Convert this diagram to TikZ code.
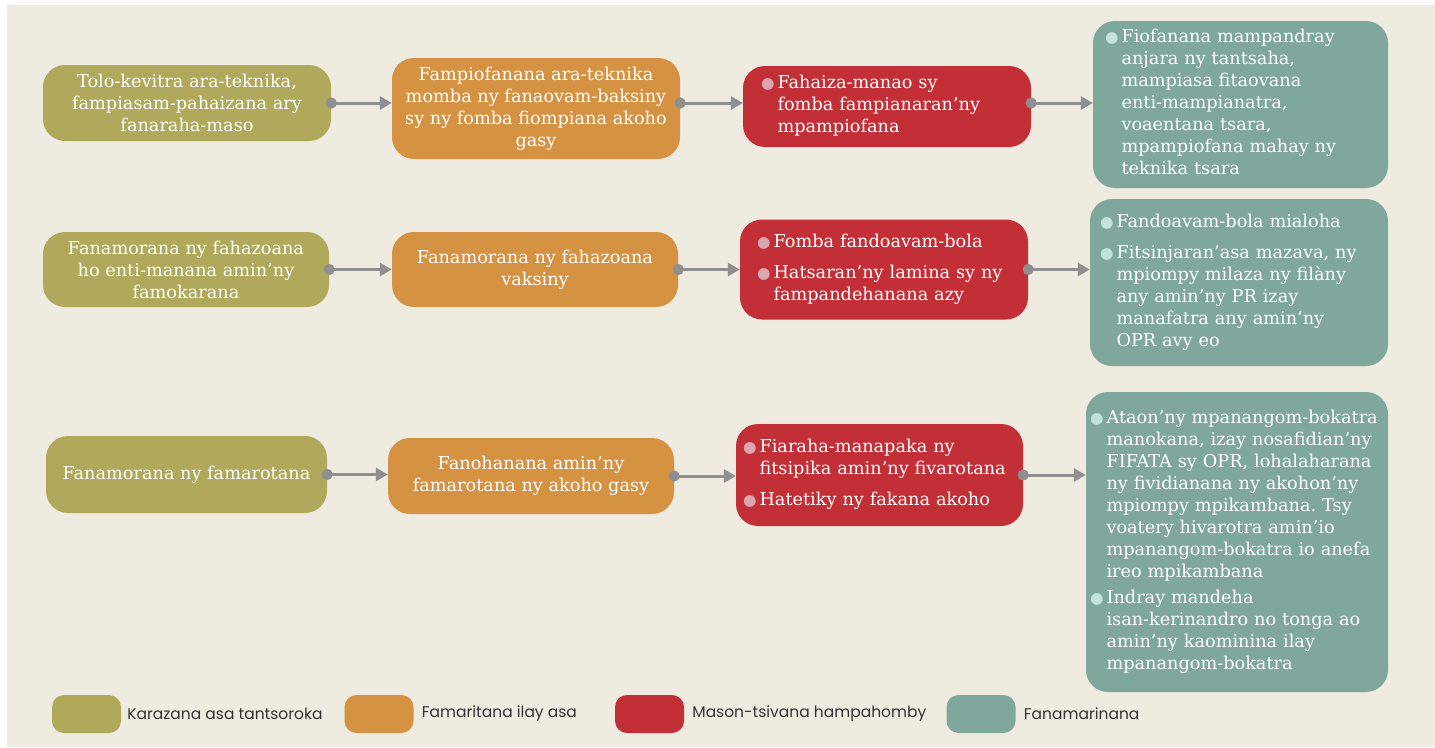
\documentclass[tikz,border=0pt]{standalone}
\usepackage{fontspec}
\setmainfont{DejaVu Serif}
\newfontfamily\keyfont{Poppins}
\newfontfamily\dotfont{DejaVu Sans}
\usetikzlibrary{arrows.meta,positioning}
\frenchspacing

\definecolor{paper}{HTML}{F0EBE1}
\definecolor{colOlive}{HTML}{B0A95B}
\definecolor{colOrange}{HTML}{D69243}
\definecolor{colRed}{HTML}{C32F37}
\definecolor{colTeal}{HTML}{7FA79C}
\definecolor{linkgray}{HTML}{8F8F8F}
\definecolor{reddot}{HTML}{DBA6AF}
\definecolor{tealdot}{HTML}{C2E3DA}
\definecolor{keygray}{HTML}{333333}

\newcommand{\rdot}{\textcolor{reddot}{\dotfont\fontsize{15.5}{22}\selectfont ●}}
\newcommand{\tdot}{\textcolor{tealdot}{\dotfont\fontsize{15.5}{22}\selectfont ●}}
\newenvironment{dotlist}{\begin{tabular}{@{}l@{\hspace{3pt}}l@{}}}{\end{tabular}}

\tikzset{
  box/.style={shape=rectangle, rounded corners=22pt, inner sep=0pt, text=white,
    font=\fontsize{17.7}{22}\selectfont},
  plainbox/.style={box, align=center},
  listbox/.style={box, align=left},
  link/.style={draw=linkgray, line width=3pt,
    {Circle[length=11pt]}-{Triangle[length=12pt,width=13pt]}},
  swatch/.style={shape=rectangle, rounded corners=12pt, minimum width=69pt, minimum height=38pt},
  keytext/.style={font=\keyfont\fontsize{15.5}{18}\selectfont, text=keygray, inner sep=0pt}
}

\begin{document}
\begin{tikzpicture}[x=1pt,y=-1pt]
\useasboundingbox (0,0) rectangle (1435,747);
\fill[white] (0,0) rectangle (1435,747);
\fill[paper] (7,5) rectangle (1435,747);

% row 1
\node[plainbox, fill=colOlive, minimum width=288pt, minimum height=76pt] (a1) at (187,103)
  {Tolo-kevitra ara-teknika,\\fampiasam-pahaizana ary\\fanaraha-maso};
\node[plainbox, fill=colOrange, minimum width=288pt, minimum height=101pt] (b1) at (536,108.5)
  {Fampiofanana ara-teknika\\momba ny fanaovam-baksiny\\sy ny fomba fiompiana akoho\\gasy};
\node[listbox, fill=colRed, minimum width=288pt, minimum height=81pt, text width=252pt, inner xsep=18pt] (c1) at (887,106.5)
  {\begin{dotlist}\rdot & Fahaiza-manao sy\\ & fomba fampianaran’ny\\ & mpampiofana\end{dotlist}};
\node[listbox, fill=colTeal, minimum width=295pt, minimum height=167pt, text width=271pt, inner xsep=12pt] (d1) at (1240.5,104.5)
  {\begin{dotlist}\tdot & Fiofanana mampandray\\ & anjara ny tantsaha,\\ & mampiasa fitaovana\\ & enti-mampianatra,\\ & voaentana tsara,\\ & mpampiofana mahay ny\\ & teknika tsara\end{dotlist}};

% row 2
\node[plainbox, fill=colOlive, minimum width=286pt, minimum height=75pt] (a2) at (186,269.5)
  {Fanamorana ny fahazoana\\ho enti-manana amin’ny\\famokarana};
\node[plainbox, fill=colOrange, minimum width=286pt, minimum height=75pt] (b2) at (535,269.5)
  {Fanamorana ny fahazoana\\vaksiny};
\node[listbox, fill=colRed, minimum width=288pt, minimum height=100pt, text width=254pt, inner xsep=17pt] (c2) at (884,269.5)
  {\begin{dotlist}\rdot & Fomba fandoavam-bola\\[9pt] \rdot & Hatsaran’ny lamina sy ny\\ & fampandehanana azy\end{dotlist}};
\node[listbox, fill=colTeal, minimum width=298pt, minimum height=167pt, text width=278pt, inner xsep=10pt] (d2) at (1239,282.5)
  {\begin{dotlist}\tdot & Fandoavam-bola mialoha\\[9pt] \tdot & Fitsinjaran’asa mazava, ny\\ & mpiompy milaza ny filàny\\ & any amin’ny PR izay\\ & manafatra any amin’ny\\ & OPR avy eo\end{dotlist}};

% row 3
\node[plainbox, fill=colOlive, minimum width=281pt, minimum height=77pt] (a3) at (186.5,474.5)
  {Fanamorana ny famarotana};
\node[plainbox, fill=colOrange, minimum width=286pt, minimum height=76pt] (b3) at (531,476)
  {Fanohanana amin’ny\\famarotana ny akoho gasy};
\node[listbox, fill=colRed, minimum width=287pt, minimum height=102pt, text width=273pt, inner xsep=7pt] (c3) at (879.5,475)
  {\begin{dotlist}\rdot & Fiaraha-manapaka ny\\ & fitsipika amin’ny fivarotana\\[9pt] \rdot & Hatetiky ny fakana akoho\end{dotlist}};
\node[listbox, fill=colTeal, minimum width=302pt, minimum height=300pt, text width=294pt, inner xsep=4pt] (d3) at (1237,542)
  {\begin{dotlist}\tdot & Ataon’ny mpanangom-bokatra\\ & manokana, izay nosafidian’ny\\ & FIFATA sy OPR, lohalaharana\\ & ny fividianana ny akohon’ny\\ & mpiompy mpikambana. Tsy\\ & voatery hivarotra amin’io\\ & mpanangom-bokatra io anefa\\ & ireo mpikambana\\[4pt] \tdot & Indray mandeha\\ & isan-kerinandro no tonga ao\\ & amin’ny kaominina ilay\\ & mpanangom-bokatra\end{dotlist}};

% links
\draw[link] ([xshift=-5.5pt]a1.east) -- (a1.east -| b1.west);
\draw[link] ([xshift=-5.5pt]b1.east |- a1.east) -- (a1.east -| c1.west);
\draw[link] ([xshift=-5.5pt]c1.east |- a1.east) -- (a1.east -| d1.west);
\draw[link] ([xshift=-5.5pt]a2.east) -- (a2.east -| b2.west);
\draw[link] ([xshift=-5.5pt]b2.east) -- (b2.east -| c2.west);
\draw[link] ([xshift=-5.5pt]c2.east) -- (c2.east -| d2.west);
\draw[link] ([xshift=-5.5pt]a3.east) -- (a3.east -| b3.west);
\draw[link] ([xshift=-5.5pt]b3.east) -- (b3.east -| c3.west);
\draw[link] ([xshift=-5.5pt]c3.east) -- (c3.east -| d3.west);

% legend
\node[swatch, fill=colOlive] (k1) at (86.5,714) {};
\node[keytext, right=6pt of k1] (k1t) {Karazana asa tantsoroka};
\node[swatch, fill=colOrange] (k2) at (379,714) {};
\node[keytext, right=8pt of k2] (k2t) {Famaritana ilay asa};
\node[swatch, fill=colRed] (k3) at (649.5,714) {};
\node[keytext, right=8pt of k3] (k3t) {Mason-tsivana hampahomby};
\node[swatch, fill=colTeal] (k4) at (981,714) {};
\node[keytext, right=8pt of k4] (k4t) {Fanamarinana};
\end{tikzpicture}
\end{document}
